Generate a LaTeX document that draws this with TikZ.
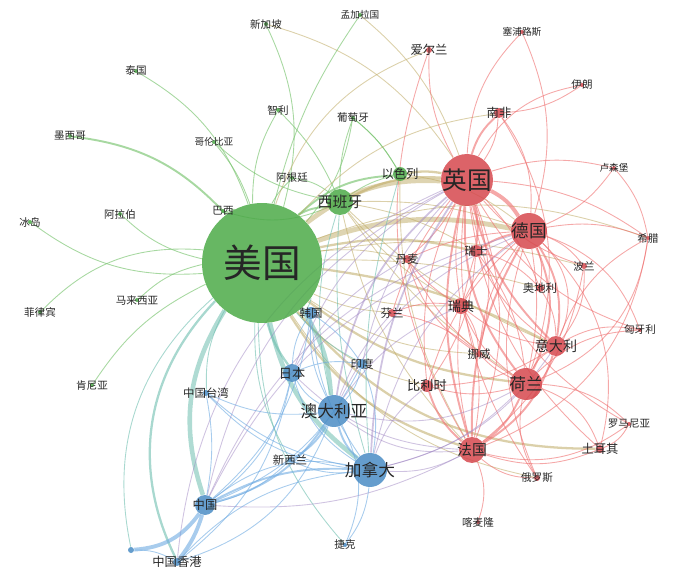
\documentclass[tikz,border=0pt]{standalone}
\usepackage{fontspec}
\newfontfamily\cjk{Noto Sans CJK SC}
\usetikzlibrary{backgrounds}

\definecolor{gnode}{RGB}{76,170,72}
\definecolor{rnode}{RGB}{214,72,78}
\definecolor{bnode}{RGB}{74,140,196}
\definecolor{gedge}{RGB}{120,195,110}
\definecolor{redge}{RGB}{238,110,110}
\definecolor{bedge}{RGB}{110,170,225}
\definecolor{oedge}{RGB}{190,170,100}
\definecolor{tedge}{RGB}{110,190,175}
\definecolor{pedge}{RGB}{160,135,195}

\begin{document}
\begin{tikzpicture}[x=0.02cm, y=-0.02cm,
  gv/.style={circle, inner sep=0pt, fill=gnode, fill opacity=0.85, minimum size=#1*0.04cm},
  rv/.style={circle, inner sep=0pt, fill=rnode, fill opacity=0.85, minimum size=#1*0.04cm},
  bv/.style={circle, inner sep=0pt, fill=bnode, fill opacity=0.85, minimum size=#1*0.04cm},
  every label/.style={text=black!85, inner sep=0pt, fill opacity=1, text opacity=1},
  fa/.style={font=\cjk\fontsize{22}{24}\selectfont},
  fb/.style={font=\cjk\fontsize{14}{16}\selectfont},
  fc/.style={font=\cjk\fontsize{10}{12}\selectfont},
  fd/.style={font=\cjk\fontsize{9.5}{11}\selectfont},
  fe/.style={font=\cjk\fontsize{8.5}{10}\selectfont},
  ff/.style={font=\cjk\fontsize{8}{10}\selectfont},
  fg/.style={font=\cjk\fontsize{7.5}{9}\selectfont},
  fh/.style={font=\cjk\fontsize{7}{8}\selectfont},
  fi/.style={font=\cjk\fontsize{6.5}{8}\selectfont},
  fj/.style={font=\cjk\fontsize{6}{7}\selectfont},
  fk/.style={font=\cjk\fontsize{5.5}{7}\selectfont},
  g1/.style={draw=gedge, line width=0.5pt, draw opacity=0.65},
  g2/.style={draw=gedge, line width=1.1pt, draw opacity=0.65},
  r1/.style={draw=redge, line width=0.5pt, draw opacity=0.6},
  r2/.style={draw=redge, line width=1.1pt, draw opacity=0.6},
  r3/.style={draw=redge, line width=2.2pt, draw opacity=0.6},
  b1/.style={draw=bedge, line width=0.5pt, draw opacity=0.6},
  b2/.style={draw=bedge, line width=1.1pt, draw opacity=0.6},
  b3/.style={draw=bedge, line width=2.2pt, draw opacity=0.6},
  o1/.style={draw=oedge, line width=0.5pt, draw opacity=0.55},
  o2/.style={draw=oedge, line width=1.3pt, draw opacity=0.55},
  o3/.style={draw=oedge, line width=2.8pt, draw opacity=0.5},
  t1/.style={draw=tedge, line width=0.5pt, draw opacity=0.6},
  t2/.style={draw=tedge, line width=1.3pt, draw opacity=0.6},
  t3/.style={draw=tedge, line width=2.6pt, draw opacity=0.55},
  p1/.style={draw=pedge, line width=0.5pt, draw opacity=0.5},
  p2/.style={draw=pedge, line width=1pt, draw opacity=0.5}]
\useasboundingbox (0,0) rectangle (685,577);

% Green cluster
\node[gv=60, label={[fa]center:美国}] (us) at (262,263) {};
\node[gv=13, label={[fe]center:西班牙}] (es) at (340,202) {};
\node[gv=7, label={[fh]center:以色列}] (il) at (400,174) {};
\node[gv=2, label={[fk]center:孟加拉国}] (bd) at (360,15) {};
\node[gv=2, label={[fj]center:新加坡}] (sg) at (266,24) {};
\node[gv=2, label={[fj]center:泰国}] (th) at (136,71) {};
\node[gv=2, label={[fj]center:智利}] (cl) at (278,110) {};
\node[gv=2, label={[fj]center:葡萄牙}] (prt) at (353,118) {};
\node[gv=2, label={[fj]center:墨西哥}] (mx) at (70,136) {};
\node[gv=2, label={[fk]center:哥伦比亚}] (co) at (214,142) {};
\node[gv=2, label={[fj]center:阿根廷}] (ar) at (292,178) {};
\node[gv=2, label={[fj]center:巴西}] (br) at (223,211) {};
\node[gv=2, label={[fj]center:阿拉伯}] (sa) at (120,214) {};
\node[gv=2, label={[fj]center:冰岛}] (isl) at (30,222) {};
\node[gv=2, label={[fj]center:马来西亚}] (my) at (137,300) {};
\node[gv=2, label={[fj]center:菲律宾}] (ph) at (40,312) {};
\node[gv=2, label={[fj]center:肯尼亚}] (ke) at (92,385) {};

% Red cluster
\node[rv=26, label={[fb]center:英国}] (uk) at (467,180) {};
\node[rv=18, label={[fc]center:德国}] (de) at (529,231) {};
\node[rv=16, label={[fd]center:荷兰}] (nl) at (526,384) {};
\node[rv=13, label={[fe]center:法国}] (fr) at (472,450) {};
\node[rv=10, label={[ff]center:意大利}] (it) at (556,346) {};
\node[rv=8, label={[fg]center:瑞典}] (se) at (461,306) {};
\node[rv=6, label={[fg]center:比利时}] (be) at (427,386) {};
\node[rv=6, label={[fi]center:瑞士}] (ch) at (476,251) {};
\node[rv=4, label={[fi]center:丹麦}] (dk) at (407,259) {};
\node[rv=4, label={[fi]center:芬兰}] (fi) at (392,313) {};
\node[rv=3, label={[fi]center:挪威}] (nor) at (479,354) {};
\node[rv=4, label={[fi]center:奥地利}] (aut) at (540,288) {};
\node[rv=3, label={[fj]center:波兰}] (pl) at (584,266) {};
\node[rv=2, label={[fj]center:匈牙利}] (hu) at (640,330) {};
\node[rv=2, label={[fj]center:希腊}] (gr) at (648,238) {};
\node[rv=2, label={[fk]center:卢森堡}] (lu) at (614,168) {};
\node[rv=2, label={[fj]center:伊朗}] (ir) at (582,85) {};
\node[rv=5, label={[fh]center:南非}] (za) at (499,113) {};
\node[rv=2, label={[fk]center:塞浦路斯}] (cy) at (522,32) {};
\node[rv=3, label={[fh]center:爱尔兰}] (ie) at (429,50) {};
\node[rv=2, label={[fj]center:罗马尼亚}] (ro) at (629,424) {};
\node[rv=4, label={[fh]center:土耳其}] (tr) at (600,449) {};
\node[rv=3, label={[fj]center:俄罗斯}] (ru) at (537,478) {};
\node[rv=2, label={[fj]center:喀麦隆}] (cmr) at (478,522) {};

% Blue cluster
\node[bv=16, label={[fd]center:澳大利亚}] (au) at (334,411) {};
\node[bv=17, label={[fd]center:加拿大}] (ca) at (370,470) {};
\node[bv=9, label={[fg]center:日本}] (jp) at (292,373) {};
\node[bv=10, label={[fh]center:中国}] (cn) at (205,505) {};
\node[bv=6, label={[fi]center:韩国}] (kr) at (311,313) {};
\node[bv=5, label={[fi]center:印度}] (ind) at (362,364) {};
\node[bv=3, label={[fi]center:中国台湾}] (tw) at (206,393) {};
\node[bv=2.5, label={[fi]center:新西兰}] (nz) at (290,460) {};
\node[bv=4, label={[fh]center:中国香港}] (hk) at (177,562) {};
\node[bv=2, label={[fj]center:捷克}] (cz) at (345,545) {};
\node[bv=3] (bdot) at (131,550) {};

% Edges behind the nodes
\begin{scope}[on background layer]
% green periphery
\foreach \a/\b/\s/\k in {mx/us/g2/20, th/us/g1/20, sg/us/g1/20, sg/uk/o1/20,
  bd/us/g1/-10, bd/uk/o1/15, co/us/g1/10, co/es/g1/-15, cl/us/g1/-15,
  cl/es/g1/10, prt/es/g1/-10, prt/us/g1/15, prt/il/g1/10, ar/us/g1/-10,
  ar/es/g1/15, br/us/g1/10, br/es/g1/-20, sa/us/g1/-15, isl/us/g1/-20,
  my/us/g1/15, ph/us/g1/25, ke/us/g1/15, us/es/g2/15, us/il/g2/20,
  es/il/g1/10, il/prt/g1/-10}
  \draw[\s] (\a) to[bend left=\k] (\b);
% green to red
\foreach \a/\b/\s/\k in {us/uk/o3/20, us/de/o3/15, us/fr/o2/-20, us/nl/o2/-15,
  us/it/o2/10, us/ch/o2/12, us/se/o1/-10, us/dk/o1/10, us/fi/o1/-10,
  us/nor/o1/-15, us/be/o1/-18, us/aut/o1/8, us/za/o1/20, us/ie/o1/25,
  us/pl/o1/12, us/tr/o2/-25, es/uk/o2/15, es/de/o1/10, es/fr/o1/-15,
  es/it/o1/-10, es/nl/o1/-10, es/ch/o1/10, es/se/o1/-10, il/uk/o2/10,
  il/de/o1/15, il/fr/o1/-15, us/gr/o1/20, us/ru/o1/-22}
  \draw[\s] (\a) to[bend left=\k] (\b);
% green to blue
\foreach \a/\b/\s/\k in {us/ca/t3/-20, us/au/t3/15, us/cn/t3/-25, us/hk/t2/-35,
  us/jp/t2/-10, us/kr/t1/10, us/ind/t1/-10, us/tw/t1/-15, us/nz/t1/-15,
  us/bdot/t1/-30, us/cz/t1/-20, es/au/t1/-15, es/ca/t1/-10, il/ca/t1/-10}
  \draw[\s] (\a) to[bend left=\k] (\b);
% red cluster
\foreach \a/\b/\s/\k in {uk/de/r3/15, uk/fr/r2/-15, uk/nl/r2/-20, uk/it/r2/-15,
  uk/ch/r2/10, uk/se/r1/-10, uk/dk/r1/10, uk/fi/r1/-10, uk/nor/r1/15,
  uk/be/r1/-15, uk/aut/r1/10, uk/za/r2/15, uk/za/r1/-15, uk/ie/r1/15,
  uk/cy/r1/20, uk/ir/r1/25, uk/gr/r1/15, uk/lu/r1/15, uk/pl/r1/-15,
  uk/tr/r1/-20, uk/ru/r1/-20, uk/ro/r1/-25, uk/hu/r1/-20, uk/fr/r1/20,
  de/nl/r2/25, de/fr/r2/-15, de/it/r2/20, de/ch/r2/-10, de/aut/r1/15,
  de/se/r1/-15, de/pl/r1/15, de/dk/r1/-10, de/be/r1/-15, de/gr/r1/15,
  de/hu/r1/25, de/nor/r1/-15, de/za/r1/-20, de/ru/r1/-20, de/tr/r1/30,
  de/lu/r1/-15, de/nl/r1/10, de/it/r1/35,
  fr/nl/r2/-15, fr/it/r2/-20, fr/be/r2/15, fr/ch/r1/15, fr/se/r1/-15,
  fr/cmr/r1/20, fr/tr/r1/-20, fr/ru/r1/-20, fr/ro/r1/-25, fr/gr/r1/-30,
  nl/it/r1/15, nl/be/r1/15, nl/se/r1/15, nl/ch/r1/-15, nl/tr/r1/25,
  nl/ro/r1/20, nl/ru/r1/-20, nl/dk/r1/15, nl/nor/r1/10, nl/gr/r1/-30,
  it/ch/r1/15, it/aut/r1/-15, it/hu/r1/20, it/gr/r1/20, it/pl/r1/-20,
  it/se/r1/15, it/be/r1/15, se/dk/r1/10, se/fi/r1/-15, se/nor/r1/15,
  dk/nor/r1/-20, fi/nor/r1/15, ch/aut/r1/15, be/ch/r1/-15, za/ir/r1/-15,
  ie/fr/r1/-25, cy/de/r1/20, pl/fr/r1/20, hu/nl/r1/-20, tr/ro/r1/-20,
  gr/lu/r1/-15, za/nl/r1/25}
  \draw[\s] (\a) to[bend left=\k] (\b);
% red to blue
\foreach \a/\b/\s/\k in {uk/au/p2/-20, uk/ca/p2/-15, uk/cn/p1/-25, uk/jp/p1/-20,
  uk/hk/p1/-30, uk/ind/p1/-15, de/ca/p1/-20, de/au/p1/-20, de/cn/p1/-25,
  fr/ca/p1/15, fr/au/p1/20, fr/cn/p1/15, nl/au/p1/20, nl/ca/p1/15,
  be/ca/p1/-15, se/au/p1/-15, ch/cn/p1/-20, it/ca/p1/20, fi/au/p1/-10,
  dk/jp/p1/-15, fr/jp/p1/20}
  \draw[\s] (\a) to[bend left=\k] (\b);
% blue cluster
\foreach \a/\b/\s/\k in {au/ca/b2/-15, au/cn/b2/20, au/nz/b2/15, au/jp/b1/15,
  au/kr/b1/15, au/ind/b1/-15, au/hk/b1/25, au/tw/b1/15, ca/cn/b2/-15,
  ca/hk/b1/-20, ca/jp/b1/20, ca/kr/b1/15, ca/ind/b1/-15, ca/nz/b1/15,
  ca/cz/b1/15, ca/tw/b1/20, cn/hk/b3/10, cn/tw/b1/-10, cn/jp/b1/-20,
  cn/kr/b1/-20, cn/nz/b1/-15, bdot/cn/b3/-25, bdot/hk/b1/15, jp/kr/b1/15,
  jp/ind/b1/15, cz/au/b1/-25, hk/jp/b1/-20, cn/ind/b1/-20, tw/ca/b1/-15,
  kr/ind/b1/10, cn/ca/b1/25}
  \draw[\s] (\a) to[bend left=\k] (\b);
\end{scope}
\end{tikzpicture}
\end{document}
